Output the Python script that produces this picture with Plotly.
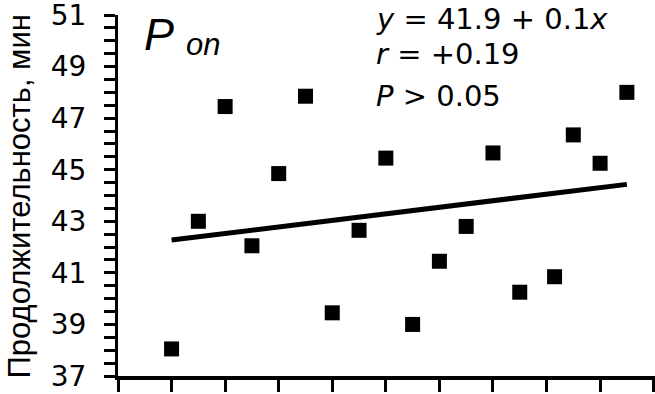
import numpy as np
import plotly.graph_objects as go

# Data
x_pos = [1, 2, 3, 4, 5, 6, 7, 8, 9, 10, 11, 12, 13, 14, 15.3, 16, 17, 18]
durations = [38.05, 43.0, 47.45, 42.05, 44.85, 47.85, 39.45, 42.65, 45.45,
             39.0, 41.45, 42.8, 45.65, 40.25, 40.85, 46.35, 45.25, 48.0]
y_ticks = [37, 39, 41, 43, 45, 47, 49, 51]
y_title = "Продолжительность, мин"
panel_label = "P"
panel_sub = "on"
stats_lines = ["<i>y</i> = 41.9 + 0.1<i>x</i>", "<i>r</i> = +0.19", "<i>P</i> > 0.05"]

FONT = "Liberation Sans, Arial, Helvetica, sans-serif"
WIDE = "DejaVu Sans, Liberation Sans, sans-serif"
W, H = 655, 394
L, R, T, B = 118, 0, 15, 18
PW, PH = W - L - R, H - T - B

# regression line
slope, intercept = np.polyfit(np.array(x_pos), np.array(durations), 1)
fit_x = np.array([min(x_pos), max(x_pos)])
fit_y = intercept + slope * fit_x

fig = go.Figure()
fig.add_trace(go.Scatter(x=fit_x, y=fit_y, mode="lines",
                         line=dict(color="black", width=5), showlegend=False,
                         hoverinfo="skip"))
fig.add_trace(go.Scatter(x=x_pos, y=durations, mode="markers",
                         marker=dict(symbol="square", size=15, color="black",
                                     line=dict(width=0)),
                         showlegend=False))

def px_x(p):
    return (p - L) / PW

def px_y(p):
    return (H - B - p) / PH

annotations = [
    dict(text=y_title, textangle=-90, xref="paper", yref="paper",
         x=px_x(0), y=px_y(197), xanchor="left", yanchor="middle",
         showarrow=False, borderpad=0,
         font=dict(family=FONT, size=31, color="black")),
    dict(text="<i>" + panel_label + "</i>", xref="paper", yref="paper",
         x=px_x(142), y=px_y(34), xanchor="left", yanchor="middle",
         showarrow=False, font=dict(family=FONT, size=45, color="black")),
    dict(text="<i>" + panel_sub + "</i>", xref="paper", yref="paper",
         x=px_x(184), y=px_y(45), xanchor="left", yanchor="middle",
         showarrow=False, font=dict(family=FONT, size=31, color="black")),
    dict(text=stats_lines[0], xref="paper", yref="paper",
         x=px_x(374), y=px_y(0), xanchor="left", yanchor="top",
         showarrow=False, font=dict(family=WIDE, size=29, color="black")),
]
for line, cy in zip(stats_lines[1:], [54, 96]):
    annotations.append(dict(text=line, xref="paper", yref="paper",
                            x=px_x(374), y=px_y(cy), xanchor="left", yanchor="middle",
                            showarrow=False,
                            font=dict(family=WIDE, size=29, color="black")))

fig.update_layout(
    width=W, height=H,
    margin=dict(l=L, r=R, t=T, b=B, pad=0),
    paper_bgcolor="white", plot_bgcolor="white",
    font=dict(family=FONT, color="black"),
    annotations=annotations,
    xaxis=dict(range=[-1, 19.05], tick0=-1, dtick=2, showticklabels=False,
               ticks="outside", ticklen=12, tickwidth=3, tickcolor="black",
               showline=True, linewidth=4, linecolor="black",
               showgrid=False, zeroline=False, fixedrange=True),
    yaxis=dict(range=[37, 51], tickvals=y_ticks, ticks="outside", ticklen=11,
               tickwidth=3, tickcolor="black", ticklabelstandoff=12,
               ticklabeloverflow="allow",
               tickfont=dict(family=WIDE, size=28, color="black"),
               minor=dict(dtick=0.5, tick0=37, ticks="outside", ticklen=11,
                          tickwidth=3, tickcolor="black"),
               showline=True, linewidth=3, linecolor="black",
               showgrid=False, zeroline=False, fixedrange=True),
)

fig.write_html("out.html", config={"displayModeBar": False},
               post_script="document.body.style.margin='0';document.body.style.overflow='hidden';")
